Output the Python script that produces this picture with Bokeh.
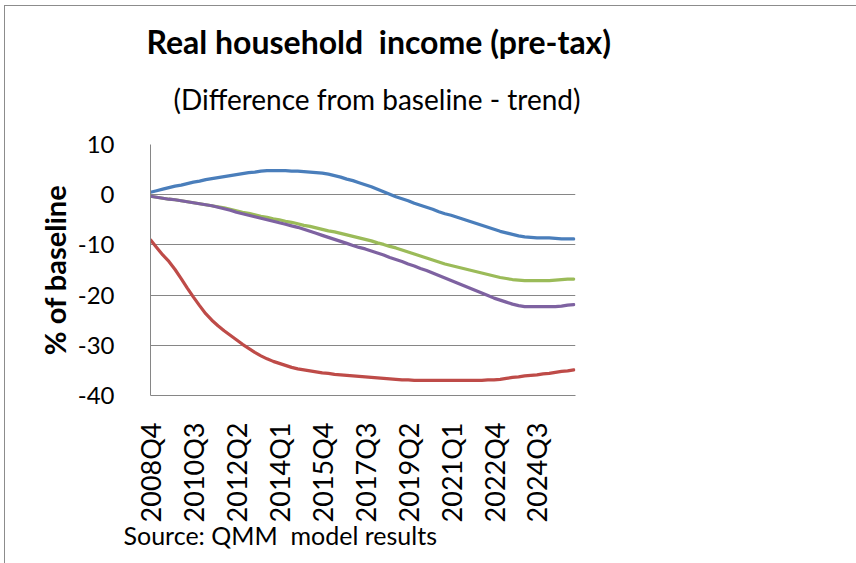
import math
from bokeh.plotting import figure
from bokeh.models import Range1d, FixedTicker, Title
from bokeh.embed import file_html
from bokeh.resources import INLINE

# ---------------- data ----------------
quarters = []
y, q = 2008, 4
for _ in range(70):
    quarters.append(f"{y}Q{q}")
    q += 1
    if q > 4:
        q = 1
        y += 1

tick_labels = ["2008Q4", "2010Q3", "2012Q2", "2014Q1", "2015Q4",
               "2017Q3", "2019Q2", "2021Q1", "2022Q4", "2024Q3"]

blue = [0.5, 0.8, 1.1, 1.4, 1.7, 1.9, 2.2, 2.5, 2.7, 3.0,
        3.2, 3.4, 3.6, 3.8, 4.0, 4.2, 4.4, 4.5, 4.7, 4.8,
        4.8, 4.8, 4.8, 4.7, 4.7, 4.6, 4.5, 4.4, 4.3, 4.1,
        3.8, 3.5, 3.1, 2.8, 2.4, 2.0, 1.6, 1.1, 0.6, 0.1,
        -0.4, -0.8, -1.2, -1.7, -2.1, -2.5, -2.9, -3.4, -3.8, -4.1,
        -4.5, -4.9, -5.3, -5.7, -6.1, -6.5, -6.9, -7.3, -7.6, -7.9,
        -8.2, -8.4, -8.5, -8.6, -8.6, -8.6, -8.7, -8.8, -8.8, -8.8]

red = [-9.0, -10.5, -12.0, -13.3, -14.9, -16.7, -18.6, -20.4, -22.1, -23.7,
       -25.0, -26.1, -27.1, -28.0, -28.9, -29.8, -30.6, -31.4, -32.1, -32.7,
       -33.2, -33.6, -34.0, -34.4, -34.7, -34.9, -35.1, -35.3, -35.5, -35.6,
       -35.8, -35.9, -36.0, -36.1, -36.2, -36.3, -36.4, -36.5, -36.6, -36.7,
       -36.8, -36.9, -36.9, -37.0, -37.0, -37.0, -37.0, -37.0, -37.0, -37.0,
       -37.0, -37.0, -37.0, -37.0, -37.0, -36.9, -36.9, -36.8, -36.6, -36.4,
       -36.3, -36.1, -36.0, -35.9, -35.7, -35.6, -35.4, -35.2, -35.1, -34.9]

green = [-0.3, -0.5, -0.7, -0.9, -1.0, -1.2, -1.4, -1.6, -1.8, -2.0,
         -2.2, -2.4, -2.6, -2.9, -3.2, -3.5, -3.7, -4.0, -4.3, -4.5,
         -4.8, -5.0, -5.3, -5.5, -5.8, -6.1, -6.3, -6.6, -6.9, -7.2,
         -7.4, -7.7, -8.0, -8.3, -8.6, -8.9, -9.2, -9.6, -9.9, -10.3,
         -10.6, -11.0, -11.4, -11.8, -12.2, -12.6, -13.0, -13.4, -13.8, -14.1,
         -14.4, -14.7, -15.0, -15.3, -15.6, -15.9, -16.2, -16.5, -16.7, -16.9,
         -17.0, -17.1, -17.1, -17.1, -17.1, -17.1, -17.0, -16.9, -16.8, -16.8]

purple = [-0.3, -0.5, -0.7, -0.9, -1.0, -1.2, -1.4, -1.6, -1.8, -2.0,
          -2.2, -2.5, -2.8, -3.1, -3.5, -3.8, -4.1, -4.4, -4.7, -5.0,
          -5.3, -5.6, -5.9, -6.2, -6.5, -6.9, -7.3, -7.7, -8.1, -8.5,
          -8.9, -9.3, -9.7, -10.1, -10.5, -10.8, -11.2, -11.6, -12.0, -12.5,
          -12.9, -13.3, -13.8, -14.2, -14.7, -15.1, -15.6, -16.1, -16.6, -17.1,
          -17.6, -18.1, -18.6, -19.1, -19.6, -20.1, -20.6, -21.0, -21.4, -21.8,
          -22.1, -22.3, -22.3, -22.3, -22.3, -22.3, -22.3, -22.2, -22.0, -21.9]

y_ticks = [10, 0, -10, -20, -30, -40]
y_tick_labels = ["10", "0", "-10", "-20", "-30", "-40"]

title_text = "Real household\u00a0 income (pre-tax)"
subtitle_text = "(Difference from baseline - trend)"
source_text = "Source: QMM\u00a0 model results"

# ---------------- layout ----------------
W, H = 856, 563
FL, FR, FT, FB = 150, 575, 144, 395   # frame edges in pixels
XMAX = 69.28

x_idx = list(range(len(quarters)))
tick_pos = [quarters.index(t) for t in tick_labels]

p = figure(width=W, height=H, output_backend="svg", toolbar_location=None,
           x_range=Range1d(0, XMAX), y_range=Range1d(-40, 10),
           min_border_left=FL, min_border_right=W - FR,
           min_border_top=FT, min_border_bottom=H - FB)
p.outline_line_color = None
p.background_fill_color = "white"
p.border_fill_color = None
# outer chart border (left and top edges), drawn behind the transparent canvas border
p.styles = {
    "background": ("linear-gradient(#8c8c8c, #8c8c8c) 4px 5px / 1px 100% no-repeat, "
                   "linear-gradient(#8c8c8c, #8c8c8c) 4px 5px / 100% 1px no-repeat, white"),
}

grid_col = "#868686"
p.xgrid.grid_line_color = None
p.ygrid.ticker = FixedTicker(ticks=y_ticks)
p.ygrid.grid_line_color = grid_col
p.ygrid.grid_line_width = 1

# y axis
p.yaxis.ticker = FixedTicker(ticks=y_ticks)
p.yaxis.major_label_overrides = dict(zip(y_ticks, y_tick_labels))
p.yaxis.axis_line_color = grid_col
p.yaxis.major_tick_line_color = None
p.yaxis.minor_tick_line_color = None
p.yaxis.major_label_text_font = "Lato"
p.yaxis.major_label_text_font_size = "24px"
p.yaxis.major_label_text_color = "#000000"
p.yaxis.major_label_standoff = 30
p.yaxis.axis_label = "% of baseline"
p.yaxis.axis_label_text_font = "Lato"
p.yaxis.axis_label_text_font_style = "bold"
p.yaxis.axis_label_text_font_size = "29px"
p.yaxis.axis_label_text_color = "#000000"
p.yaxis.axis_label_standoff = 3

# x axis
p.xaxis.ticker = FixedTicker(ticks=tick_pos)
p.xaxis.major_label_overrides = dict(zip(tick_pos, tick_labels))
p.xaxis.major_label_orientation = math.pi / 2
p.xaxis.axis_line_color = grid_col
p.xaxis.major_tick_line_color = None
p.xaxis.minor_tick_line_color = None
p.xaxis.major_label_text_font = "Lato"
p.xaxis.major_label_text_font_size = "27px"
p.xaxis.major_label_text_color = "#000000"
p.xaxis.major_label_standoff = 21

# series
series = [(blue, "#4A7EBB"), (red, "#BE4B48"), (green, "#9BBB59"), (purple, "#7E62A1")]
for vals, col in series:
    p.line(x_idx, vals, line_color=col, line_width=3.2, line_join="round", line_cap="round")

# titles (first added "above" sits nearest the frame)
p.title = None
p.add_layout(Title(text=subtitle_text, text_font="Lato",
                   text_font_size="28px", text_font_style="normal", text_color="#000000",
                   align="left", offset=23, standoff=54, vertical_align="top"), "above")
p.add_layout(Title(text=title_text, text_font="Lato",
                   text_font_size="32px", text_font_style="bold", text_color="#000000",
                   align="left", offset=-4, standoff=-17, vertical_align="top"), "above")
p.add_layout(Title(text=source_text, text_font="Lato",
                   text_font_size="25px", text_font_style="normal", text_color="#000000",
                   align="left", offset=-27, standoff=-15), "below")

open("out.html", "w").write(file_html(p, INLINE))
